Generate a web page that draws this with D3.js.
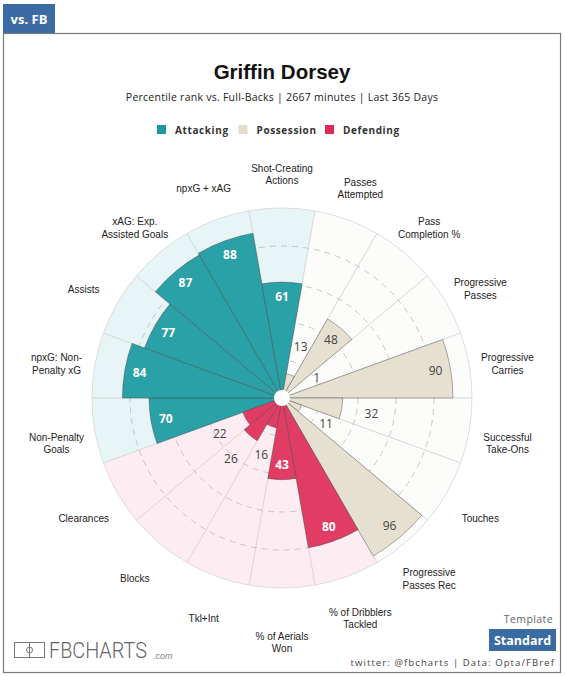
<!DOCTYPE html>
<html>
<head>
<meta charset="utf-8">
<script src="https://cdn.jsdelivr.net/npm/d3@7"></script>
<style>
  body { margin: 0; background: #fff; }
</style>
</head>
<body>
<div id="chart"></div>
<script>
// percentile data (clockwise from left)
const metrics = ["Non-Penalty\nGoals", "npxG: Non-\nPenalty xG", "Assists", "xAG: Exp.\nAssisted Goals",
  "npxG + xAG", "Shot-Creating\nActions", "Passes\nAttempted", "Pass\nCompletion %", "Progressive\nPasses",
  "Progressive\nCarries", "Successful\nTake-Ons", "Touches", "Progressive\nPasses Rec",
  "% of Dribblers\nTackled", "% of Aerials\nWon", "Tkl+Int", "Blocks", "Clearances"];
const percentiles = [70, 84, 77, 87, 88, 61, 13, 48, 1, 90, 32, 11, 96, 80, 43, 16, 26, 22];
const groupOf = ["Attacking", "Attacking", "Attacking", "Attacking", "Attacking", "Attacking",
  "Possession", "Possession", "Possession", "Possession", "Possession", "Possession", "Possession",
  "Defending", "Defending", "Defending", "Defending", "Defending"];
const groupNames = ["Attacking", "Possession", "Defending"];
const gridTicks = [20, 40, 60, 80];

const barColor = d3.scaleOrdinal().domain(groupNames).range(["#2aa1a7", "#e5e0cf", "#e13d64"]);
const bgColor = d3.scaleOrdinal().domain(groupNames).range(["#e8f5f6", "#fcfcfa", "#fdecf1"]);
const legendColor = d3.scaleOrdinal().domain(groupNames).range(["#1b979d", "#e1dece", "#dc2b57"]);
const darkLabel = d3.scaleOrdinal().domain(groupNames).range([false, true, false]);

const W = 565, H = 676;
const cx = 282, cy = 398, R = 190, hole = 8;

const svg = d3.select("#chart").append("svg").attr("width", W).attr("height", H);

// frame + tab
svg.append("rect").attr("x", 3.5).attr("y", 33.5).attr("width", 557).attr("height", 639)
  .attr("fill", "#fff").attr("stroke", "#7a7a7a").attr("stroke-width", 1.2);
svg.append("rect").attr("x", 3).attr("y", 4).attr("width", 52).attr("height", 29).attr("fill", "#3a6ca3");
svg.append("text").attr("x", 29).attr("y", 24).attr("text-anchor", "middle")
  .attr("font-family", "Open Sans").attr("font-weight", "bold").attr("font-size", 13)
  .attr("fill", "#fff").text("vs. FB");

// title
svg.append("text").attr("x", cx).attr("y", 79).attr("text-anchor", "middle")
  .attr("font-family", "Liberation Sans, Arial").attr("font-weight", "bold").attr("font-size", 20.5)
  .attr("fill", "#111").text("Griffin Dorsey");
svg.append("text").attr("x", cx).attr("y", 101).attr("text-anchor", "middle")
  .attr("font-family", "Open Sans").attr("font-size", 10.5).attr("letter-spacing", 0.25).attr("fill", "#222")
  .text("Percentile rank vs. Full-Backs | 2667 minutes | Last 365 Days");

// legend
const legendX = [157, 238.5, 325];
const lg = svg.append("g").selectAll("g").data(groupNames).enter().append("g")
  .attr("transform", (d, i) => "translate(" + legendX[i] + ",125)");
lg.append("rect").attr("width", 9).attr("height", 9).attr("fill", d => legendColor(d));
lg.append("text").attr("x", 18).attr("y", 8.5)
  .attr("font-family", "Open Sans").attr("font-weight", "bold").attr("font-size", 10)
  .attr("letter-spacing", 0.6).attr("fill", "#333").text(d => d);

// radial scales
const step = 2 * Math.PI / metrics.length;
const x = d3.scaleBand().domain(d3.range(metrics.length))
  .range([-5.5 * step, -5.5 * step + 2 * Math.PI]);
const r = d3.scaleLinear().domain([0, 100]).range([0, R]);

const chart = svg.append("g").attr("transform", "translate(" + cx + "," + cy + ")");

const bgArc = d3.arc().innerRadius(0).outerRadius(R)
  .startAngle(i => x(i)).endAngle(i => x(i) + x.bandwidth());
chart.append("g").selectAll("path").data(d3.range(metrics.length)).enter().append("path")
  .attr("d", bgArc).attr("fill", i => bgColor(groupOf[i]))
  .attr("stroke", "#d6d6d6").attr("stroke-width", 0.8);

// dashed rings
chart.append("g").selectAll("circle").data(gridTicks).enter().append("circle")
  .attr("r", d => r(d)).attr("fill", "none").attr("stroke", "#b9b9b9")
  .attr("stroke-width", 0.8).attr("stroke-dasharray", "6,5");

// bars
const barArc = d3.arc().innerRadius(0).outerRadius(i => r(percentiles[i]))
  .startAngle(i => x(i)).endAngle(i => x(i) + x.bandwidth());
chart.append("g").selectAll("path").data(d3.range(metrics.length)).enter().append("path")
  .attr("d", barArc).attr("fill", i => barColor(groupOf[i]))
  .attr("stroke", "rgba(70,70,70,0.55)").attr("stroke-width", 0.8);

chart.append("circle").attr("r", hole).attr("fill", "#fff");

// value labels
const mid = i => x(i) + x.bandwidth() / 2;
chart.append("g").selectAll("text").data(d3.range(metrics.length)).enter().append("text")
  .each(function (i) {
    const v = percentiles[i];
    const inside = v >= 40;
    const rr = inside ? r(v) - 15 : Math.max(r(v) + 30, 40);
    const white = inside && !darkLabel(groupOf[i]);
    d3.select(this)
      .attr("x", rr * Math.sin(mid(i))).attr("y", -rr * Math.cos(mid(i)))
      .attr("dy", "0.35em").attr("text-anchor", "middle")
      .attr("font-family", "Open Sans").attr("font-size", 12)
      .attr("font-weight", white ? "bold" : "normal")
      .attr("fill", white ? "#fff" : "#444").text(v);
  });

// metric labels: on a ring slightly below the chart centre, bottom one pushed lower
const labelR = 229, labelShift = 5.5, lh = 12.5;
chart.append("g").selectAll("text").data(d3.range(metrics.length)).enter().append("text")
  .each(function (i) {
    const lines = metrics[i].split("\n");
    const a = mid(i);
    const bottom = Math.abs(Math.cos(a) + 1) < 0.05 ? 10 : 0;
    const t = d3.select(this)
      .attr("text-anchor", "middle").attr("font-family", "Liberation Sans, Arial")
      .attr("font-size", 10).attr("fill", "#222");
    const lx = labelR * Math.sin(a), ly = -labelR * Math.cos(a) + labelShift + bottom;
    lines.forEach((ln, k) => {
      t.append("tspan").attr("x", lx)
        .attr("y", ly + (k - (lines.length - 1) / 2) * lh).attr("dy", "0.35em").text(ln);
    });
  });

// footer
svg.append("text").attr("x", 553).attr("y", 623).attr("text-anchor", "end")
  .attr("font-family", "Open Sans").attr("font-size", 10.5).attr("letter-spacing", 0.4)
  .attr("fill", "#666").text("Template");
svg.append("rect").attr("x", 489).attr("y", 629).attr("width", 67).attr("height", 22).attr("fill", "#3a6ca3");
svg.append("text").attr("x", 522.5).attr("y", 645).attr("text-anchor", "middle")
  .attr("font-family", "Open Sans").attr("font-weight", "bold").attr("font-size", 12.5)
  .attr("fill", "#fff").text("Standard");
svg.append("text").attr("x", 555).attr("y", 666).attr("text-anchor", "end")
  .attr("font-family", "Open Sans").attr("font-size", 9.5).attr("letter-spacing", 1.1)
  .attr("fill", "#444").text("twitter: @fbcharts | Data: Opta/FBref");

// logo
const logo = svg.append("g");
logo.append("rect").attr("x", 14.5).attr("y", 642.5).attr("width", 30).attr("height", 15)
  .attr("fill", "none").attr("stroke", "#777").attr("stroke-width", 1);
logo.append("line").attr("x1", 29.5).attr("x2", 29.5).attr("y1", 642.5).attr("y2", 657.5)
  .attr("stroke", "#777");
logo.append("circle").attr("cx", 29.5).attr("cy", 650).attr("r", 3).attr("fill", "none").attr("stroke", "#777");
const brand = logo.append("text").attr("font-family", "Roboto").attr("font-weight", 300)
  .attr("font-size", 22.5).attr("fill", "#666").text("FBCHARTS");
const sx = 98 / brand.node().getComputedTextLength();
brand.attr("transform", "translate(49,658) scale(" + sx + ",1)");
logo.append("text").attr("x", 153).attr("y", 659).attr("font-family", "Liberation Sans, Arial")
  .attr("font-style", "italic").attr("font-size", 9).attr("fill", "#888").text(".com");
</script>
</body>
</html>
